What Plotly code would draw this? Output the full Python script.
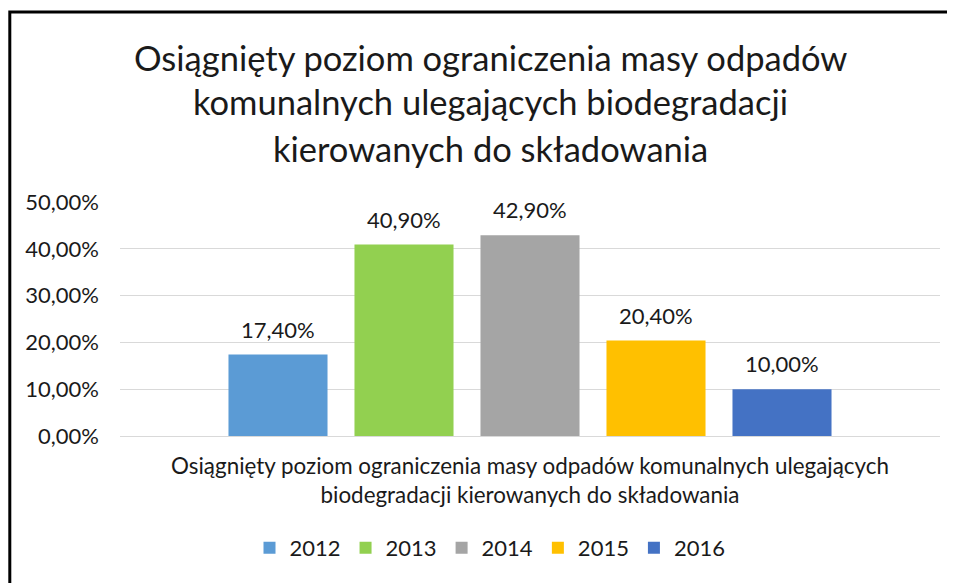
import plotly.graph_objects as go

# data
years = ["2012", "2013", "2014", "2015", "2016"]
values = [0.174, 0.409, 0.429, 0.204, 0.100]
colors = ["#5B9BD5", "#92D050", "#A5A5A5", "#FFC000", "#4472C4"]

title_lines = [
    "Osiągnięty poziom ograniczenia masy odpadów",
    "komunalnych ulegających biodegradacji",
    "kierowanych do składowania",
]
category_label = ("Osiągnięty poziom ograniczenia masy odpadów komunalnych ulegających<br>"
                  "biodegradacji kierowanych do składowania")

FONT = "Lato"
TXT = "#1a1a1a"
# page body has an 8px margin, so the figure is a bit smaller than the window
W, H = 947, 575
L, R, T, B = 112, 15, 194, 147


# helpers: reference-pixel -> paper coords (plot area 120..940 x 202..436)
def px_x(x):
    return (x - 120) / 820


def px_y(y):
    return (436 - y) / 234


fig = go.Figure()
for i, (year, val, col) in enumerate(zip(years, values, colors)):
    fig.add_trace(go.Bar(x=[year], y=[val], name=year, marker_color=col,
                         marker_line_width=0, width=0.786))
    fig.add_annotation(x=i, y=val, text=f"{val * 100:.2f}%".replace(".", ","),
                       showarrow=False, yanchor="bottom", yshift=10,
                       font=dict(family=FONT, size=22, color=TXT))

for line, yc in zip(title_lines, [57, 102, 148]):
    fig.add_annotation(xref="paper", yref="paper", x=px_x(490), y=px_y(yc),
                       text=line, showarrow=False, xanchor="center", yanchor="middle",
                       font=dict(family=FONT, size=34.5, color=TXT))

# outer chart border (cut off on the right and bottom in the reference)
fig.add_shape(type="rect", xref="paper", yref="paper",
              x0=px_x(9.8), x1=px_x(990), y0=px_y(12), y1=px_y(620),
              line=dict(color="black", width=3))

fig.update_layout(
    width=W, height=H,
    margin=dict(l=L, r=R, t=T, b=B),
    barmode="overlay",
    separators=", ",
    plot_bgcolor="white",
    paper_bgcolor="white",
    font=dict(family=FONT, size=22, color=TXT),
    showlegend=True,
    legend=dict(orientation="h", x=px_x(490), xanchor="center",
                y=px_y(548), yanchor="middle", font=dict(size=22),
                traceorder="normal"),
    xaxis=dict(type="category", range=[-1.254, 5.254], showticklabels=False,
               showgrid=False, zeroline=False,
               title=dict(text=category_label, standoff=22,
                          font=dict(size=22.4, color=TXT))),
    yaxis=dict(range=[0, 0.5], dtick=0.1, tickformat=".2%",
               gridcolor="#D9D9D9", gridwidth=1, zeroline=True,
               zerolinecolor="#D9D9D9", zerolinewidth=1,
               ticklabelstandoff=20, tickfont=dict(size=22)),
)

fig.write_html("out.html")
